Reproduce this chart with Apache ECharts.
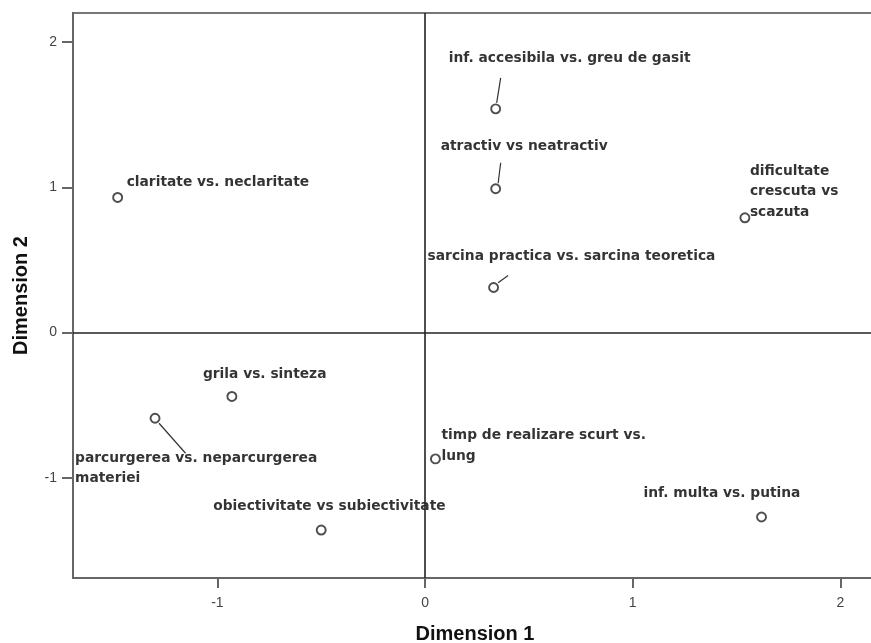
<!DOCTYPE html>
<html>
<head>
<meta charset="utf-8">
<script src="https://cdn.jsdelivr.net/npm/echarts@6/dist/echarts.min.js"></script>
<style>html,body{margin:0;padding:0;background:#fff}#c{width:871px;height:643px}</style>
</head>
<body>
<div id="c"></div>
<script>
// ---- data ----
var names = [
  "claritate vs. neclaritate",
  "inf. accesibila vs. greu de gasit",
  "atractiv vs neatractiv",
  "dificultate\ncrescuta vs\nscazuta",
  "sarcina practica vs. sarcina teoretica",
  "grila vs. sinteza",
  "parcurgerea vs. neparcurgerea\nmateriei",
  "obiectivitate vs subiectivitate",
  "timp de realizare scurt vs.\nlung",
  "inf. multa vs. putina"
];
var dim1 = [-1.48, 0.34, 0.34, 1.54, 0.33, -0.93, -1.30, -0.50, 0.05, 1.62];
var dim2 = [0.93, 1.54, 0.99, 0.79, 0.31, -0.44, -0.59, -1.36, -0.87, -1.27];
var tickValues = [-1, 0, 1, 2];

// ---- styling (label placement in pixels, relative to the point) ----
var labelOffsets = [
  [9, -15], [-47, -50], [-55, -42], [5, -26], [-66, -31],
  [-29, -22], [-80, 50], [-108, -24], [6, -13], [-118, -24]
];
var leaderLines = [
  null, [1, -6, 5, -31], [2.5, -5.5, 5, -26], null, [4.5, -4.7, 14.5, -12],
  null, [4, 5, 30.5, 35], null, null, null
];

var points = names.map(function (n, i) {
  return {
    value: [dim1[i], dim2[i]],
    name: n,
    label: { offset: labelOffsets[i] }
  };
});

var chart = echarts.init(document.getElementById('c'), null, {renderer: 'canvas'});
var axisColor = '#666';
chart.setOption({
  animation: false,
  backgroundColor: '#fff',
  grid: { left: 73, top: 13, right: -6, bottom: 65, containLabel: false, outerBoundsMode: 'none',
          show: true, borderColor: '#777', borderWidth: 2, backgroundColor: 'transparent' },
  xAxis: {
    type: 'value', min: -1.695, max: 2.176,
    name: 'Dimension 1', nameLocation: 'middle', nameGap: 46,
    nameTextStyle: { fontFamily: 'Liberation Sans', fontWeight: 'bold', fontSize: 20, color: '#111' },
    axisLine: { show: true, onZero: false, lineStyle: { color: axisColor, width: 2 } },
    axisTick: { show: true, length: 10, customValues: tickValues, lineStyle: { color: axisColor, width: 2 } },
    axisLabel: { customValues: tickValues, margin: 18, fontFamily: 'Liberation Sans', fontSize: 14, color: '#444' },
    splitLine: { show: false }
  },
  yAxis: {
    type: 'value', min: -1.69, max: 2.2,
    name: 'Dimension 2', nameLocation: 'middle', nameGap: 42,
    nameTextStyle: { fontFamily: 'Liberation Sans', fontWeight: 'bold', fontSize: 20, color: '#111' },
    axisLine: { show: true, onZero: false, lineStyle: { color: axisColor, width: 2 } },
    axisTick: { show: true, length: 11, customValues: tickValues, lineStyle: { color: axisColor, width: 2 } },
    axisLabel: { customValues: tickValues, margin: 16, fontFamily: 'Liberation Sans', fontSize: 14, color: '#444' },
    splitLine: { show: false }
  },
  series: [
    {
      type: 'scatter',
      data: points,
      symbol: 'circle',
      symbolSize: 9,
      itemStyle: { color: 'rgba(255,255,255,0)', borderColor: '#222', borderWidth: 1.9 },
      label: {
        show: true, position: 'inside', align: 'left', verticalAlign: 'middle',
        formatter: '{b}', fontFamily: 'DejaVu Sans', fontWeight: 'bold', fontSize: 13.8,
        lineHeight: 20.5, color: '#000', textBorderWidth: 0, textBorderColor: 'transparent',
        textShadowBlur: 0
      },
      emphasis: { disabled: true },
      markLine: {
        silent: true, symbol: 'none', animation: false,
        label: { show: false },
        lineStyle: { color: '#222', width: 1.6, type: 'solid' },
        data: [{ xAxis: 0 }, { yAxis: 0 }]
      },
      z: 3
    },
    {
      type: 'custom',
      data: points.map(function (p) { return p.value; }),
      silent: true,
      z: 2,
      renderItem: function (params, api) {
        var seg = leaderLines[params.dataIndex];
        if (!seg) return null;
        var c = api.coord([api.value(0), api.value(1)]);
        return {
          type: 'line',
          shape: { x1: c[0] + seg[0], y1: c[1] + seg[1], x2: c[0] + seg[2], y2: c[1] + seg[3] },
          style: { stroke: '#333', lineWidth: 1.2 }
        };
      }
    }
  ]
});
</script>
</body>
</html>
